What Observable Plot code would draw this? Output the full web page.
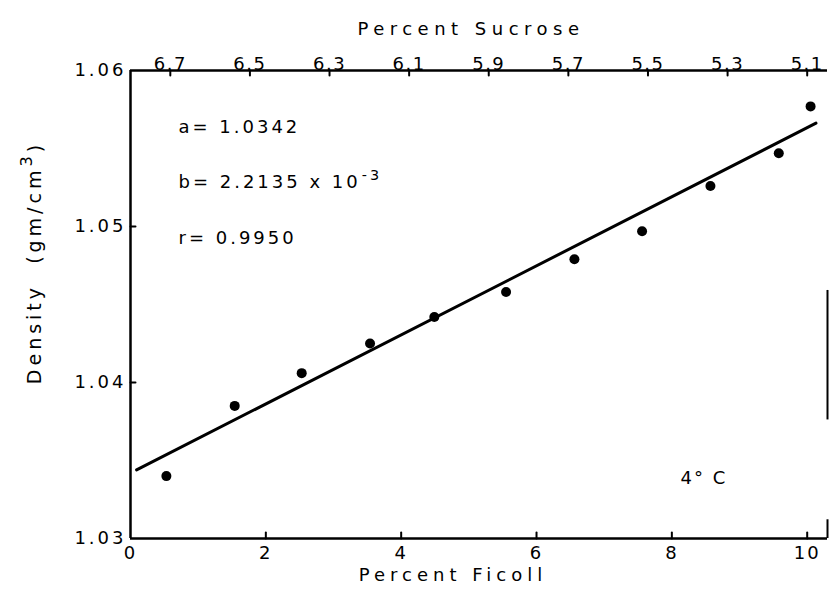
<!DOCTYPE html>
<html><head><meta charset="utf-8">
<script src="https://cdn.jsdelivr.net/npm/d3@7"></script>
<script src="https://cdn.jsdelivr.net/npm/@observablehq/plot@0.6"></script>
<style>body{margin:0;background:#fff} svg{font-family:"DejaVu Sans",sans-serif}</style>
</head><body><div id="chart"></div>
<script>
// Data
const ficoll = [0.53, 1.54, 2.53, 3.54, 4.49, 5.55, 6.56, 7.56, 8.57, 9.58, 10.05];
const density = [1.0340, 1.0385, 1.0406, 1.0425, 1.0442, 1.0458, 1.0479, 1.0497, 1.0526, 1.0547, 1.0577];
const xTicks = [0, 2, 4, 6, 8, 10];
const yTicks = [1.03, 1.04, 1.05, 1.06];
const sucroseTicks = [6.7, 6.5, 6.3, 6.1, 5.9, 5.7, 5.5, 5.3, 5.1];
// sucrose ≈ 6.8 − 0.17·ficoll (top-axis correspondence)
const sucroseAt0 = 6.8, sucroseSlope = 0.17;
const fitA = 1.0342, fitB = 2.2135e-3;
const fitRange = [0.09, 10.13];
const xMax = 10.3;
const rightEdgeSegments = [[1.0376, 1.0459], [1.03, 1.0312]];
const noteA = "a= 1.0342", noteB = "b= 2.2135 x 10", noteExp = "-3", noteR = "r= 0.9950", noteT = "4° C";
const xTitle = "Percent Ficoll", topTitle = "Percent Sucrose", yTitle = "Density  (gm/cm", yTitleExp = "3", yTitleEnd = ")";

const points = ficoll.map((x, i) => ({x, y: density[i]}));
const fit = fitRange.map(x => ({x, y: fitA + fitB * x}));
const sucroseToFicoll = s => (sucroseAt0 - s) / sucroseSlope;
const topTicks = sucroseTicks.map(s => ({s, x: sucroseToFicoll(s)}));
const yFmt = d3.format(".2f");

const tickShape = {draw(ctx, l) { ctx.moveTo(0, 0); ctx.lineTo(0, -l); }};
const note = (t, dx, dy) =>
  Plot.text([t], {frameAnchor: "top-left", textAnchor: "start", dx, dy, fontSize: 18});

const chart = Plot.plot({
  width: 831, height: 599,
  marginLeft: 130, marginRight: 4, marginTop: 70, marginBottom: 61,
  x: {domain: [0, xMax], axis: null},
  y: {domain: [1.03, 1.06], axis: null},
  style: {fontFamily: "DejaVu Sans, sans-serif", background: "white", color: "black"},
  marks: [
    // frame
    Plot.ruleY([1.06], {strokeWidth: 2.5, x1: 0, x2: xMax}),
    Plot.ruleY([1.03], {strokeWidth: 2.5, x1: 0, x2: xMax}),
    Plot.ruleX([0], {strokeWidth: 2.5, y1: 1.03, y2: 1.06}),
    Plot.ruleX(rightEdgeSegments, {x: () => xMax, y1: d => d[0], y2: d => d[1], strokeWidth: 2}),
    // axes
    Plot.axisX(xTicks, {anchor: "bottom", tickSize: 0, tickPadding: 8, fontSize: 18, label: null}),
    Plot.axisY(yTicks, {anchor: "left", tickSize: 0, tickPadding: 4, fontSize: 18, label: null, tickFormat: yFmt}),
    Plot.text(topTicks, {x: "x", text: d => d.s.toFixed(1), frameAnchor: "top", dy: -1, lineAnchor: "bottom", fontSize: 18}),
    Plot.vector(xTicks.slice(1), {x: d => d, frameAnchor: "bottom", length: 6, rotate: 0, anchor: "start", shape: tickShape, stroke: "black", strokeWidth: 2}),
    Plot.vector(yTicks.slice(1, 3), {y: d => d, frameAnchor: "left", length: 5, rotate: 90, anchor: "start", shape: tickShape, stroke: "black", strokeWidth: 2}),
    Plot.vector(topTicks, {x: "x", frameAnchor: "top", length: 5, rotate: 180, anchor: "start", shape: tickShape, stroke: "black", strokeWidth: 2}),
    // titles
    Plot.text([topTitle], {frameAnchor: "top", textAnchor: "middle", dx: -8, dy: -48, fontSize: 18}),
    Plot.text([xTitle], {frameAnchor: "bottom", textAnchor: "middle", dx: -26, dy: 42, fontSize: 18}),
    Plot.text([yTitle], {frameAnchor: "left", textAnchor: "middle", rotate: -90, dx: -96, dy: -42, fontSize: 19}),
    // annotations
    note(noteA, 48, 50),
    note(noteB, 48, 105),
    note(noteR, 48, 161),
    note(noteT, 550, 401),
    // data
    Plot.line(fit, {x: "x", y: "y", strokeWidth: 3, stroke: "black"}),
    Plot.dot(points, {x: "x", y: "y", r: 5, fill: "black"})
  ]
});

const svg = d3.select(chart);
const style = (strings, ls) => svg.selectAll("text")
  .filter(function() { return strings.includes(this.textContent); })
  .attr("letter-spacing", ls).style("white-space", "pre");
style(xTicks.map(String), 2);
style(yTicks.map(yFmt), 3);
style(sucroseTicks.map(s => s.toFixed(1)), 1.5);
style([topTitle], 5.5);
style([xTitle], 5);
style([noteA, noteB, noteR], 3);
style([noteT], 2);
// superscripts as real text
const yt = style([yTitle], 4);
yt.append("tspan").attr("dy", "-0.55em").attr("font-size", "0.85em").text(yTitleExp);
yt.append("tspan").attr("dy", "0.55em").text(yTitleEnd);
const nb = svg.selectAll("text").filter(function() { return this.textContent === noteB; });
nb.append("tspan").attr("dy", "-0.6em").attr("dx", 1).attr("font-size", "0.8em").text(noteExp);
document.getElementById("chart").append(chart);
</script>
</body></html>
